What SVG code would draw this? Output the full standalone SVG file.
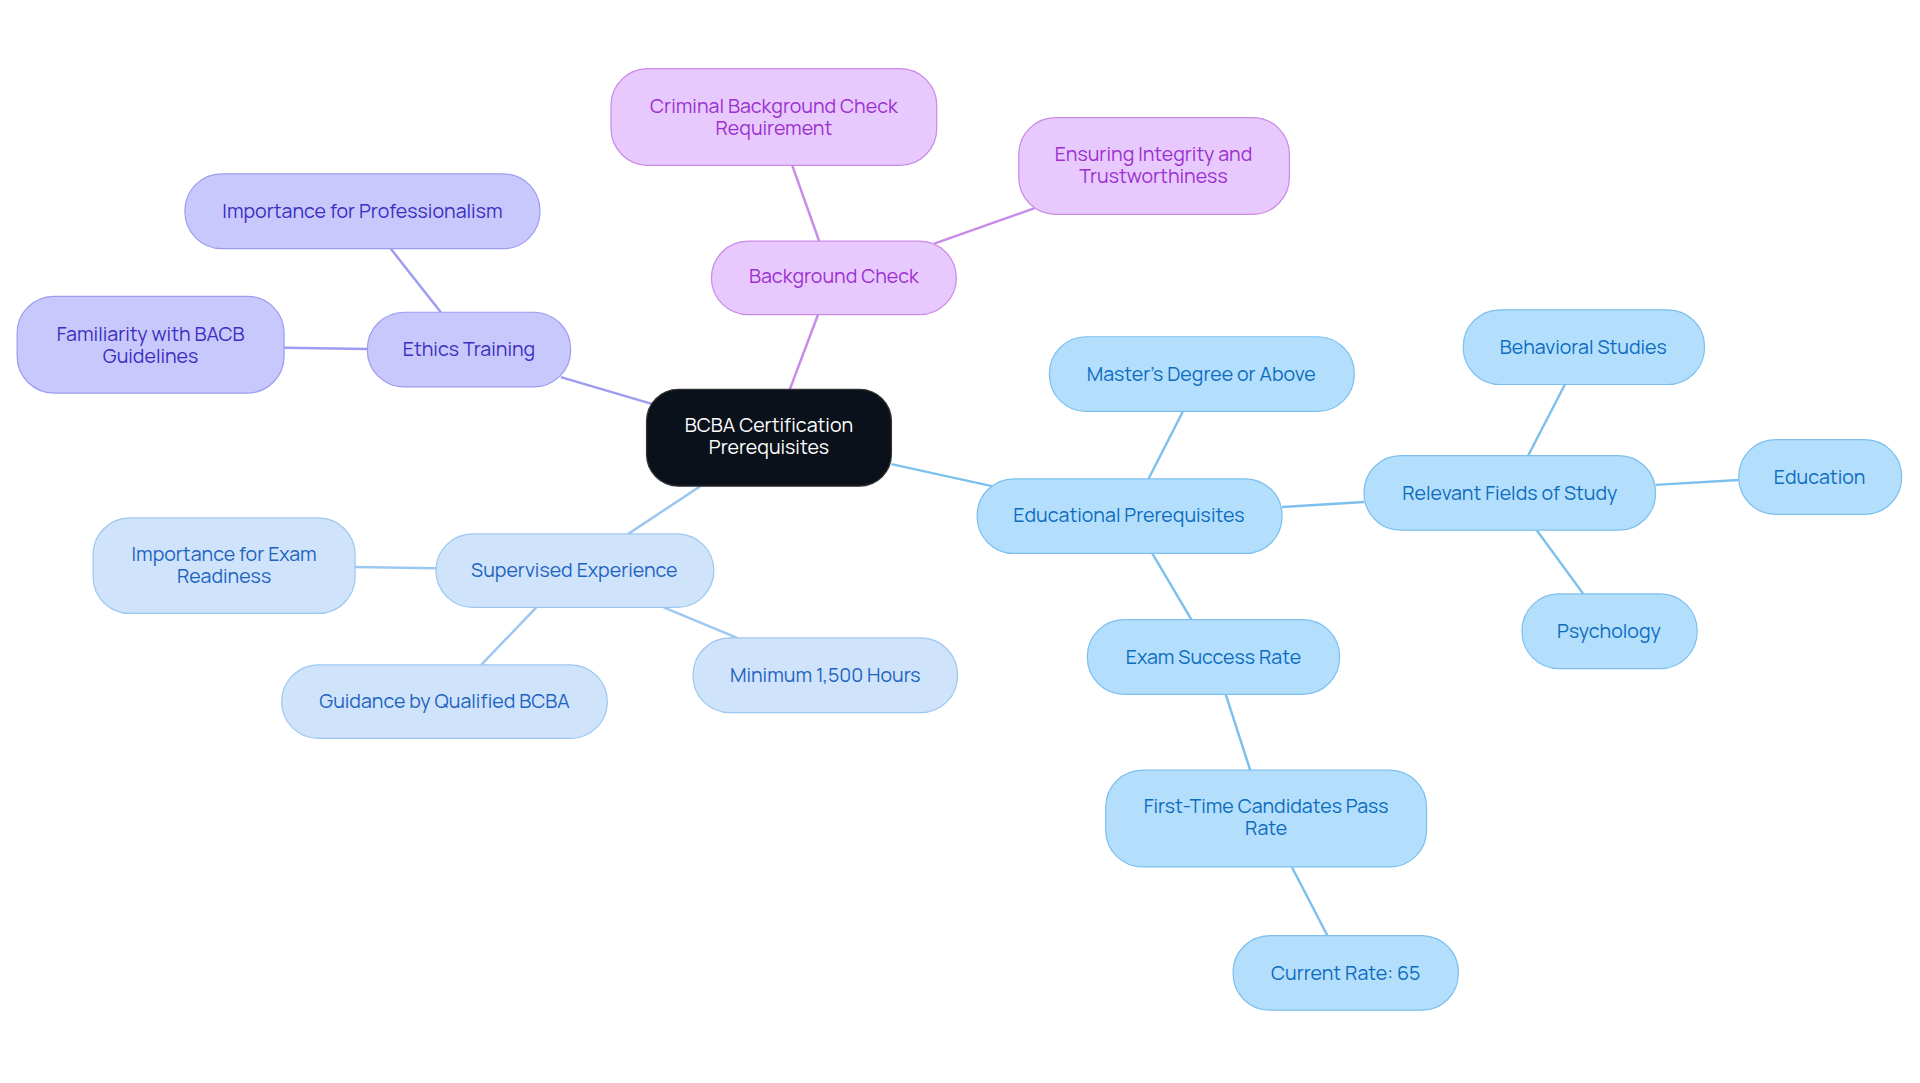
<svg xmlns="http://www.w3.org/2000/svg" width="1920" height="1083" viewBox="0 0 1920 1083">
<style>
text{font-family:Manrope,Inter,"Noto Sans",sans-serif;font-size:16px;text-anchor:middle;dominant-baseline:central}
.c rect{fill:#0b111a;stroke:#333}.c text{fill:#fff}
.p rect{fill:#e8c9fd;stroke:#c98ae8}.p text{fill:#9b30d0}
.v rect{fill:#c9c8fc;stroke:#9d9cf0}.v text{fill:#3a2fc0}
.l rect{fill:#cfe3fb;stroke:#9cc7f0}.l text{fill:#1e63c0}
.b rect{fill:#b3dffd;stroke:#7dc0ee}.b text{fill:#0d6cbf}
rect{stroke-width:1}
#edges line{stroke-width:2}
</style>
<rect width="1920" height="1083" fill="#fff"/>
<g transform="scale(1.2245)">
<g id="edges">
<g stroke="#c98ae8"><line x1="645" y1="318" x2="668" y2="257"/><line x1="669" y1="197" x2="647" y2="135"/><line x1="763" y1="199" x2="845" y2="170"/></g>
<g stroke="#9d9cf0"><line x1="533" y1="330" x2="458" y2="308"/><line x1="360" y1="255" x2="319" y2="203"/><line x1="300" y1="285" x2="232" y2="284"/></g>
<g stroke="#9cc7f0"><line x1="572" y1="397" x2="513" y2="436"/><line x1="356" y1="464" x2="290" y2="463"/><line x1="438" y1="496" x2="393" y2="543"/><line x1="542" y1="496" x2="602" y2="521"/></g>
<g stroke="#7dc0ee"><line x1="728" y1="379" x2="810" y2="397"/><line x1="938" y1="391" x2="966" y2="336"/><line x1="1047" y1="414" x2="1114" y2="410"/><line x1="1248" y1="372" x2="1278" y2="314"/><line x1="1352" y1="396" x2="1420" y2="392"/><line x1="1255" y1="433" x2="1293" y2="485"/><line x1="941" y1="452" x2="973" y2="506"/><line x1="1001" y1="567" x2="1021" y2="629"/><line x1="1055" y1="708" x2="1084" y2="764"/></g>
</g>
<g id="center" class="c"><rect x="528" y="318" width="200" height="79" rx="26"/><text x="628" y="347">BCBA Certification</text><text x="628" y="365">Prerequisites</text></g>
<g id="bg" class="p"><rect x="581" y="197" width="200" height="60" rx="30"/><text x="681" y="225">Background Check</text></g>
<g id="crim" class="p"><rect x="499" y="56" width="266" height="79" rx="30"/><text x="632" y="86">Criminal Background Check</text><text x="632" y="104">Requirement</text></g>
<g id="ens" class="p"><rect x="832" y="96" width="221" height="79" rx="30"/><text x="942" y="125">Ensuring Integrity and</text><text x="942" y="143">Trustworthiness</text></g>
<g id="eth" class="v"><rect x="300" y="255" width="166" height="61" rx="30"/><text x="383" y="285">Ethics Training</text></g>
<g id="prof" class="v"><rect x="151" y="142" width="290" height="61" rx="30"/><text x="296" y="172">Importance for Professionalism</text></g>
<g id="fam" class="v"><rect x="14" y="242" width="218" height="79" rx="30"/><text x="123" y="272">Familiarity with BACB</text><text x="123" y="290">Guidelines</text></g>
<g id="se" class="l"><rect x="356" y="436" width="227" height="60" rx="30"/><text x="469" y="465">Supervised Experience</text></g>
<g id="imp" class="l"><rect x="76" y="423" width="214" height="78" rx="30"/><text x="183" y="452">Importance for Exam</text><text x="183" y="470">Readiness</text></g>
<g id="guid" class="l"><rect x="230" y="543" width="266" height="60" rx="30"/><text x="363" y="572">Guidance by Qualified BCBA</text></g>
<g id="min" class="l"><rect x="566" y="521" width="216" height="61" rx="30"/><text x="674" y="551">Minimum 1,500 Hours</text></g>
<g id="edu" class="b"><rect x="798" y="391" width="249" height="61" rx="30"/><text x="922" y="420">Educational Prerequisites</text></g>
<g id="mast" class="b"><rect x="857" y="275" width="249" height="61" rx="30"/><text x="981" y="305">Master's Degree or Above</text></g>
<g id="rel" class="b"><rect x="1114" y="372" width="238" height="61" rx="30"/><text x="1233" y="402">Relevant Fields of Study</text></g>
<g id="beh" class="b"><rect x="1195" y="253" width="197" height="61" rx="30"/><text x="1293" y="283">Behavioral Studies</text></g>
<g id="educ" class="b"><rect x="1420" y="359" width="133" height="61" rx="30"/><text x="1486" y="389">Education</text></g>
<g id="psy" class="b"><rect x="1243" y="485" width="143" height="61" rx="30"/><text x="1314" y="515">Psychology</text></g>
<g id="exam" class="b"><rect x="888" y="506" width="206" height="61" rx="30"/><text x="991" y="536">Exam Success Rate</text></g>
<g id="first" class="b"><rect x="903" y="629" width="262" height="79" rx="30"/><text x="1034" y="658">First-Time Candidates Pass</text><text x="1034" y="676">Rate</text></g>
<g id="cur" class="b"><rect x="1007" y="764" width="184" height="61" rx="30"/><text x="1099" y="794">Current Rate: 65</text></g>
</g>
</svg>
